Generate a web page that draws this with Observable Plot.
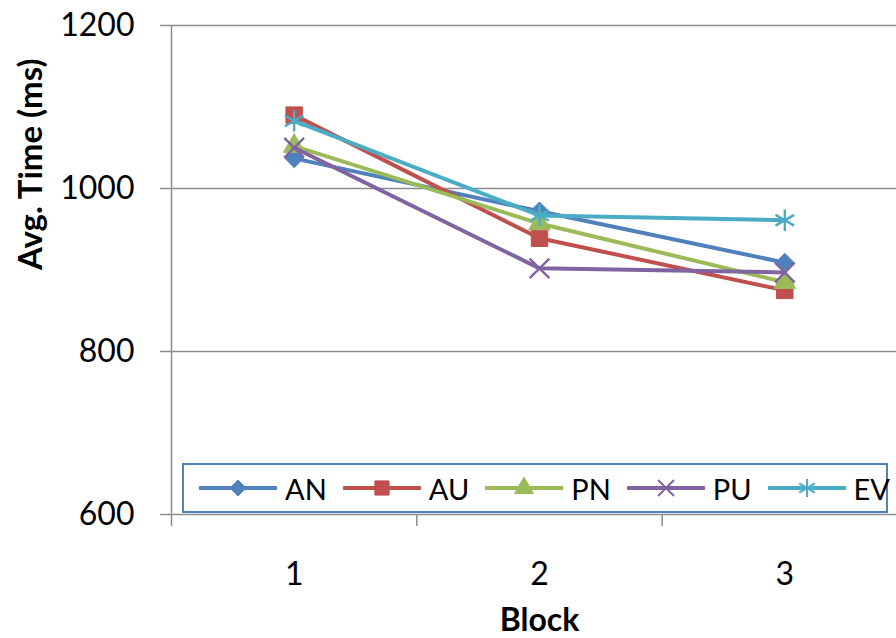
<!DOCTYPE html>
<html>
<head>
<meta charset="utf-8">
<script src="https://cdn.jsdelivr.net/npm/d3@7"></script>
<script src="https://cdn.jsdelivr.net/npm/@observablehq/plot@0.6"></script>
<style>
  html, body { margin: 0; padding: 0; background: #fff; overflow: hidden; }
  #chart { position: relative; width: 896px; height: 638px; font-family: Lato, "Open Sans", sans-serif; }
  #chart svg { overflow: hidden; }
  #legend {
    position: absolute; left: 182px; top: 463px; width: 706px; height: 50px;
    box-sizing: border-box; border: 2px solid #4F81BD; background: #fff;
    display: flex; align-items: center; padding-left: 15px;
  }
  .item { display: flex; align-items: center; margin-right: 16px; }
  .item svg { display: block; }
  .item span { font-size: 29px; color: #000; margin-left: 8px; line-height: 1; }
</style>
</head>
<body>
<div id="chart"></div>
<script>
// Average response time per block for each condition
const blocks = [1, 2, 3];
const seriesNames = ["AN", "AU", "PN", "PU", "EV"];
const AN = [1037, 972, 909];
const AU = [1090, 939, 875];
const PN = [1052, 957, 885];
const PU = [1050, 902, 897];
const EV = [1083, 967, 961];
const yTicks = [600, 800, 1000, 1200];

const seriesValues = [AN, AU, PN, PU, EV];
const seriesColors = ["#4F81BD", "#C0504D", "#9BBB59", "#8064A2", "#4BACC6"];
const seriesSymbols = ["diamond2", "square", "triangle", "times", "asterisk"];
const d3Symbols = [d3.symbolDiamond2, d3.symbolSquare, d3.symbolTriangle, d3.symbolTimes, d3.symbolAsterisk];
const symbolFilled = [true, true, true, false, false];
const symbolRadius = [8.4, 9.3, 8.0, 9.0, 10.2];
const legendRadius = [7.2, 8.0, 7.0, 7.3, 8.6];

const rows = seriesNames.flatMap((s, i) =>
  blocks.map((b, j) => ({series: s, block: b, value: seriesValues[i][j]}))
);

const grid = "#8c8c8c";
const marks = [
  Plot.ruleY(yTicks, {stroke: grid, strokeWidth: 1.5}),
  Plot.ruleX([0.5], {stroke: grid, strokeWidth: 1.5}),
  Plot.axisY(yTicks, {tickSize: 11, tickPadding: 26, fontSize: 32, tickFormat: "d", stroke: grid, strokeWidth: 1.5, fill: "#000", label: null}),
  Plot.axisX([0.5, 1.5, 2.5, 3.5], {tickSize: 12, tickFormat: () => "", stroke: grid, strokeWidth: 1.5, label: null}),
  Plot.axisX(blocks, {tickSize: 0, tickPadding: 48, fontSize: 32, tickFormat: "d", fill: "#000", label: null}),
  Plot.text(["Block"], {x: () => 2, frameAnchor: "bottom", lineAnchor: "bottom", dy: 116, fontSize: 32, fontWeight: "bold", fill: "#000"}),
  Plot.text(["Avg. Time (ms)"], {frameAnchor: "left", rotate: -90, dx: -140, fontSize: 33, fontWeight: "bold", fill: "#000"})
];

seriesNames.forEach((s, i) => {
  const d = rows.filter(r => r.series === s);
  marks.push(Plot.line(d, {x: "block", y: "value", stroke: seriesColors[i], strokeWidth: 4}));
  marks.push(Plot.dot(d, {
    x: "block", y: "value", symbol: seriesSymbols[i], r: symbolRadius[i],
    fill: symbolFilled[i] ? seriesColors[i] : "none",
    stroke: seriesColors[i], strokeWidth: symbolFilled[i] ? 1 : 2.4
  }));
});

const chart = Plot.plot({
  width: 896,
  height: 638,
  marginLeft: 171,
  marginRight: 0,
  marginTop: 25,
  marginBottom: 124,
  x: {type: "linear", domain: [0.5, 3.5], range: [171, 907], axis: null, label: null},
  y: {domain: [600, 1200], axis: null, label: null},
  style: {fontFamily: "Lato, 'Open Sans', sans-serif", background: "white", overflow: "hidden"},
  marks
});

const root = document.getElementById("chart");
root.appendChild(chart);

// Legend: line segment with marker, then the series name
const legend = d3.select(root).append("div").attr("id", "legend");
seriesNames.forEach((s, i) => {
  const item = legend.append("div").attr("class", "item");
  const svg = item.append("svg").attr("width", 78).attr("height", 24);
  svg.append("line").attr("x1", 1).attr("x2", 77).attr("y1", 12).attr("y2", 12)
    .attr("stroke", seriesColors[i]).attr("stroke-width", 4).attr("stroke-linecap", "round");
  const r = legendRadius[i];
  svg.append("path")
    .attr("transform", "translate(39,12)")
    .attr("d", d3.symbol(d3Symbols[i], Math.PI * r * r)())
    .attr("fill", symbolFilled[i] ? seriesColors[i] : "none")
    .attr("stroke", seriesColors[i])
    .attr("stroke-width", symbolFilled[i] ? 1 : 2);
  item.append("span").text(s);
});
</script>
</body>
</html>
